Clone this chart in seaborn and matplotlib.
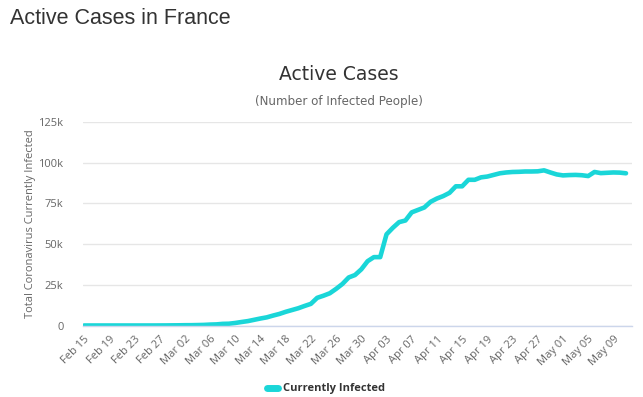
import matplotlib
matplotlib.use("Agg")
import matplotlib.pyplot as plt
import matplotlib.dates as mdates
import seaborn as sns
import pandas as pd
import numpy as np

# ---- data ----
start_date = "2020-02-15"
end_date = "2020-05-11"
active_cases = [
    5, 5, 5, 5, 5, 5, 5, 5, 5, 5,                      # Feb 15 - Feb 24
    10, 12, 30, 45, 90,                                # Feb 25 - Feb 29
    120, 180, 195, 270, 360, 560, 680, 1000, 1100,     # Mar 01 - Mar 09
    1550, 2150, 2700, 3500, 4300, 5000, 6100, 7100,    # Mar 10 - Mar 17
    8400, 9500, 10600, 12000, 13300, 17000, 18300,     # Mar 18 - Mar 24
    19800, 22500, 25500, 29500, 31000, 34500, 39500,   # Mar 25 - Mar 31
    42000, 42000, 56000, 60000, 63500, 64500, 69500,   # Apr 01 - Apr 07
    71000, 72500, 76000, 78000, 79500, 81500, 85500,   # Apr 08 - Apr 14
    85500, 89500, 89500, 91000, 91500, 92500, 93500,   # Apr 15 - Apr 21
    94000, 94300, 94400, 94600, 94600, 94700, 95300,   # Apr 22 - Apr 28
    94000, 92800, 92200, 92400, 92500, 92300, 91800,   # Apr 29 - May 05
    94300, 93600, 93800, 94000, 93900, 93500,          # May 06 - May 11
]
tick_labels = ["Feb 15", "Feb 19", "Feb 23", "Feb 27", "Mar 02", "Mar 06",
               "Mar 10", "Mar 14", "Mar 18", "Mar 22", "Mar 26", "Mar 30",
               "Apr 03", "Apr 07", "Apr 11", "Apr 15", "Apr 19", "Apr 23",
               "Apr 27", "May 01", "May 05", "May 09"]
y_ticks = [0, 25000, 50000, 75000, 100000, 125000]
y_tick_labels = ["0", "25k", "50k", "75k", "100k", "125k"]
series_name = "Currently Infected"

dates = pd.date_range(start_date, end_date, freq="D")
df = pd.DataFrame({"date": dates, "value": active_cases, "series": series_name})

sns.set_theme(style="white")
plt.rcParams["font.family"] = ["Open Sans", "DejaVu Sans"]

fig = plt.figure(figsize=(6.43, 3.97), dpi=100)
ax = fig.add_axes([83/643, 1 - 325.5/397, (632-83)/643, (325.5-122)/397])

line_color = "#1ad6d8"
sns.lineplot(data=df, x="date", y="value", hue="series", palette=[line_color],
             linewidth=3.3, ax=ax, legend=True)
for l in ax.lines:
    l.set_solid_capstyle("round")
    l.set_solid_joinstyle("round")

# axes limits
px_per_day = 6.30
x0 = mdates.date2num(dates[0])
x1 = mdates.date2num(dates[-1])
ax.set_xlim(x0 - 1/px_per_day, x1 + 6/px_per_day)
ax.set_ylim(0, 125000)

# y axis
ax.set_yticks(y_ticks)
ax.set_yticklabels(y_tick_labels)
ax.yaxis.grid(True, color="#e6e6e6", linewidth=1)
ax.tick_params(axis="y", length=0, pad=14, labelsize=8, labelcolor="#666666")
ax.set_ylabel("Total Coronavirus Currently Infected", fontsize=8, color="#666666", labelpad=2)

# x axis
tick_dates = [mdates.date2num(dates[0]) + 4*i for i in range(len(tick_labels))]
ax.set_xticks(tick_dates)
ax.set_xticklabels(tick_labels, rotation=45, ha="right", rotation_mode="anchor")
ax.tick_params(axis="x", length=0, pad=6, labelsize=8, labelcolor="#666666")
ax.set_xlabel("")

for s in ["top", "right", "left"]:
    ax.spines[s].set_visible(False)
ax.spines["bottom"].set_color("#ccd6eb")
ax.spines["bottom"].set_linewidth(1)

# titles
fig.text(10/643, 1 - 19/397, "Active Cases in France", fontsize=15.5, color="#333333",
         family=["Liberation Sans", "DejaVu Sans"], va="center", ha="left")
fig.text(339/643, 1 - 74/397, "Active Cases", fontsize=13.5, color="#333333",
         family=["DejaVu Sans"], va="center", ha="center")
fig.text(339/643, 1 - 102/397, "(Number of Infected People)", fontsize=8.6, color="#666666",
         family=["DejaVu Sans"], va="center", ha="center")

# legend
handles, labels = ax.get_legend_handles_labels()
ax.legend_.remove()
for h in handles:
    h.set_linewidth(5)
leg = fig.legend(handles, labels, loc="center", bbox_to_anchor=(326/643, 1 - 389/397),
                 frameon=False, handlelength=1.0, handletextpad=0.5,
                 prop={"weight": "bold", "size": 8})
for t in leg.get_texts():
    t.set_color("#333333")

fig.savefig("out.png", dpi=100)
